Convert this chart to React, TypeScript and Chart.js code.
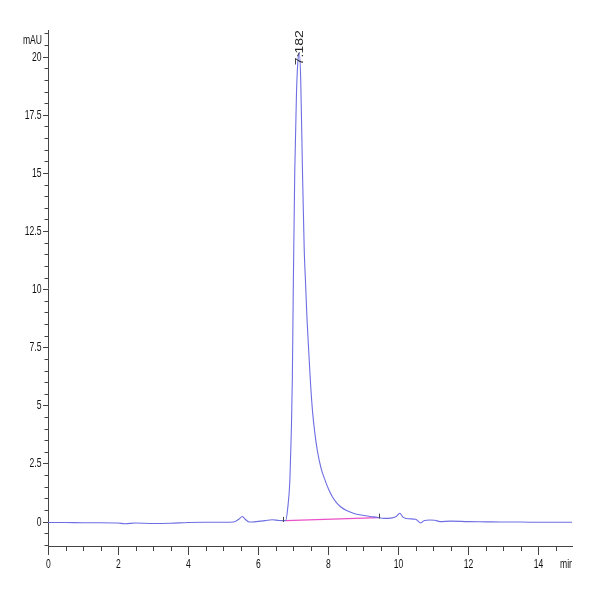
import React, { useEffect, useRef } from "react";
import { Chart, registerables } from "chart.js";

Chart.register(...registerables);

// Chromatogram trace (minutes, mAU)
const traceTimes = [
  0, 0.5, 1, 1.5, 2, 2.2, 2.5, 3, 3.5, 4, 4.5, 5, 5.3, 5.45, 5.55, 5.65, 5.75, 5.9, 6.2, 6.4, 6.6, 6.79,
  6.85, 6.91, 6.95, 6.98, 7.01, 7.05, 7.1, 7.15, 7.18, 7.22, 7.27, 7.32, 7.36, 7.4, 7.45, 7.5, 7.56, 7.62,
  7.69, 7.8, 7.93, 8.02, 8.12, 8.24, 8.36, 8.5, 8.65, 8.79, 9.0, 9.2, 9.4, 9.6, 9.8, 9.95, 10.05, 10.15,
  10.3, 10.5, 10.65, 10.75, 10.9, 11.05, 11.2, 11.5, 12, 12.5, 13, 13.5, 14, 14.5, 14.97,
];
const traceValues = [
  -0.04, -0.04, -0.05, -0.05, -0.06, -0.09, -0.06, -0.08, -0.07, -0.04, -0.03, -0.03, -0.02, 0.1, 0.22, 0.08,
  -0.02, -0.01, 0.04, 0.08, 0.05, 0.04, 0.6, 1.77, 3.8, 6.08, 10.4, 15.1, 18.5, 20.0, 20.15, 19.0, 15.1, 11.7,
  10.2, 8.7, 7.3, 5.95, 4.7, 3.85, 3.1, 2.3, 1.72, 1.38, 1.08, 0.82, 0.64, 0.5, 0.4, 0.33, 0.27, 0.22, 0.19,
  0.14, 0.15, 0.22, 0.36, 0.18, 0.12, 0.1, -0.06, 0.05, 0.07, 0.06, 0.0, 0.02, 0.0, -0.01, -0.02, -0.02,
  -0.03, -0.03, -0.03,
];

// Integration baseline
const baselineTimes = [6.79, 9.45];
const baselineValues = [0.04, 0.17];

// Integration event markers
const markerTimes = [6.7, 9.45];
const markerValues = [0.03, 0.17];

// Peak annotation
const peakTimes = [7.182];
const peakValues = [20.15];
const peakLabels = ["7.182"];

const xMajorTicks = [0, 2, 4, 6, 8, 10, 12, 14];
const yMajorTicks = [0, 2.5, 5, 7.5, 10, 12.5, 15, 17.5, 20];
const yUnit = "mAU";
const xUnit = "min";

const FONT = "'Liberation Sans', Arial, sans-serif";
const SX = 0.66;

function narrowText(ctx: CanvasRenderingContext2D, s: string, x: number, y: number, align: CanvasTextAlign) {
  ctx.save();
  ctx.translate(x, y);
  ctx.scale(SX, 1);
  ctx.textAlign = align;
  ctx.textBaseline = "middle";
  ctx.fillText(s, 0, 0);
  ctx.restore();
}

export default function App() {
  const ref = useRef<HTMLCanvasElement | null>(null);

  useEffect(() => {
    const canvas = ref.current;
    if (!canvas) return;

    const annot = {
      id: "annot",
      afterDraw(chart: any) {
        const ctx: CanvasRenderingContext2D = chart.ctx;
        const xs = chart.scales.x;
        const ys = chart.scales.y;
        const area = chart.chartArea;
        ctx.save();
        ctx.strokeStyle = "#444";
        ctx.fillStyle = "#111";
        ctx.lineWidth = 1;
        ctx.font = `13px ${FONT}`;

        // x ticks and labels
        xs.ticks.forEach((tk: any) => {
          const major = xMajorTicks.includes(tk.value);
          const px = Math.round(xs.getPixelForValue(tk.value)) + 0.5;
          ctx.beginPath();
          ctx.moveTo(px, area.bottom);
          ctx.lineTo(px, area.bottom + (major ? 9 : 5));
          ctx.stroke();
          if (major) narrowText(ctx, String(tk.value), px, area.bottom + 18, "center");
        });
        // y ticks and labels
        ys.ticks.forEach((tk: any) => {
          const major = yMajorTicks.includes(tk.value);
          const py = Math.round(ys.getPixelForValue(tk.value)) + 0.5;
          ctx.beginPath();
          ctx.moveTo(area.left, py);
          ctx.lineTo(area.left - (major ? 5 : 3.5), py);
          ctx.stroke();
          if (major) narrowText(ctx, String(tk.value), area.left - 6.5, py, "right");
        });

        // integration markers
        markerTimes.forEach((t, i) => {
          const px = Math.round(xs.getPixelForValue(t)) + 0.5;
          const py = ys.getPixelForValue(markerValues[i]);
          ctx.beginPath();
          ctx.moveTo(px, py - 4);
          ctx.lineTo(px, py + 1);
          ctx.stroke();
        });

        // peak labels
        peakTimes.forEach((t, i) => {
          const px = xs.getPixelForValue(t);
          const py = ys.getPixelForValue(peakValues[i]);
          ctx.beginPath();
          ctx.moveTo(px - 2, py + 3);
          ctx.lineTo(px, py - 1);
          ctx.stroke();
          ctx.save();
          ctx.translate(px + 3.5, py + 12);
          ctx.scale(0.8, 1);
          ctx.rotate(-Math.PI / 2);
          ctx.font = `14px ${FONT}`;
          ctx.fillStyle = "#222";
          ctx.textAlign = "left";
          ctx.textBaseline = "alphabetic";
          ctx.fillText(peakLabels[i], 0, 0);
          ctx.restore();
        });

        // units
        narrowText(ctx, yUnit, area.left - 6, area.top + 10, "right");
        ctx.save();
        ctx.beginPath();
        ctx.rect(0, 0, area.right, chart.height);
        ctx.clip();
        narrowText(ctx, xUnit, area.right - 12, area.bottom + 18, "left");
        ctx.restore();
        ctx.restore();
      },
    };

    const chart = new Chart(canvas, {
      type: "line",
      data: {
        datasets: [
          {
            data: traceTimes.map((t, i) => ({ x: t, y: traceValues[i] })),
            borderColor: "rgb(110,110,228)",
            borderWidth: 1.1,
            pointRadius: 0,
            cubicInterpolationMode: "monotone",
            order: 1,
          },
          {
            data: baselineTimes.map((t, i) => ({ x: t, y: baselineValues[i] })),
            borderColor: "rgb(235,80,200)",
            borderWidth: 1.2,
            pointRadius: 0,
            order: 2,
          },
        ],
      },
      options: {
        animation: false,
        responsive: true,
        maintainAspectRatio: false,
        layout: { padding: { top: 30, right: 28, left: 0, bottom: 0 } },
        plugins: { legend: { display: false }, tooltip: { enabled: false } },
        scales: {
          x: {
            type: "linear",
            min: 0,
            max: 14.97,
            afterBuildTicks: (s: any) => {
              const t = [];
              for (let v = 0; v <= 14.5001; v += 0.5) t.push({ value: Math.round(v * 10) / 10 });
              s.ticks = t;
            },
            afterFit: (s: any) => {
              s.height = 54;
            },
            grid: { display: true, drawOnChartArea: false, drawTicks: false },
            border: { display: true, color: "#444" },
            ticks: { display: false },
          },
          y: {
            type: "linear",
            min: -1.05,
            max: 21.15,
            afterBuildTicks: (s: any) => {
              const t = [];
              for (let v = -1; v <= 21.0001; v += 0.5) t.push({ value: Math.round(v * 10) / 10 });
              s.ticks = t;
            },
            afterFit: (s: any) => {
              s.width = 48;
            },
            grid: { display: true, drawOnChartArea: false, drawTicks: false },
            border: { display: true, color: "#444" },
            ticks: { display: false },
          },
        },
      },
      plugins: [annot],
    });
    return () => chart.destroy();
  }, []);

  return (
    <div style={{ position: "fixed", left: 0, top: 0, width: 600, height: 600, background: "#fff" }}>
      <canvas ref={ref} />
    </div>
  );
}
